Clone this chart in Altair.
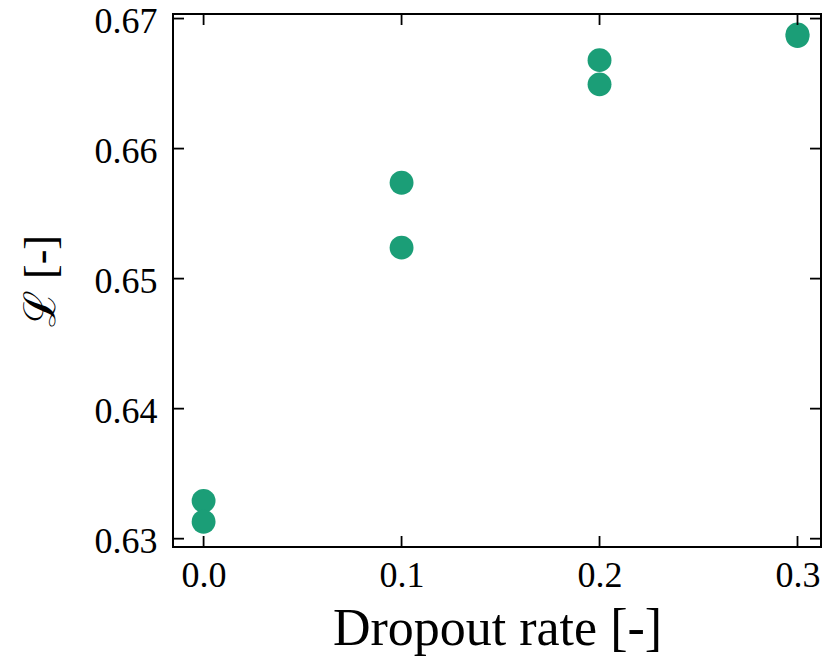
import altair as alt
import pandas as pd

# data
dropout = [0.0, 0.0, 0.1, 0.1, 0.2, 0.2, 0.3, 0.3]
loss = [0.63291, 0.63130, 0.65737, 0.65238, 0.66680, 0.66494, 0.66877, 0.66866]
x_ticks = [0.0, 0.1, 0.2, 0.3]
y_ticks = [0.63, 0.64, 0.65, 0.66, 0.67]

df = pd.DataFrame({"x": dropout, "y": loss})
xt = pd.DataFrame({"x": x_ticks})
yt = pd.DataFrame({"y": y_ticks})

W, H = 648, 533
FONT = "Liberation Serif"
TL = 11

xscale = alt.Scale(domain=[-0.01545, 0.31187], nice=False, zero=False)
yscale = alt.Scale(domain=[0.62936, 0.67035], nice=False, zero=False)

xaxis = alt.Axis(values=x_ticks, format=".1f", title="Dropout rate [-]",
                 grid=False, domain=False, ticks=False, tickSize=0,
                 labelFont=FONT, labelFontSize=36, labelColor="black",
                 labelPadding=11, titleFont=FONT, titleFontSize=52,
                 titleFontWeight="normal", titleColor="black", titlePadding=10)
yaxis = alt.Axis(values=y_ticks, format=".2f", title="ℒ [-]",
                 grid=False, domain=False, ticks=False, tickSize=0,
                 labelFont=FONT, labelFontSize=36, labelColor="black",
                 labelPadding=16, labelOffset=3, titleFont=FONT, titleFontSize=44,
                 titleFontWeight="normal", titleColor="black", titlePadding=31)

X = alt.X("x:Q", scale=xscale, axis=xaxis)
Y = alt.Y("y:Q", scale=yscale, axis=yaxis)

points = alt.Chart(df).mark_circle(size=570, color="#1b9e77", opacity=1).encode(x=X, y=Y)

rule_style = dict(color="black", strokeWidth=1.8)

left_ticks = alt.Chart(yt).mark_rule(**rule_style).encode(
    y=Y, x=alt.value(0), x2=alt.value(TL))
right_ticks = alt.Chart(yt).mark_rule(**rule_style).encode(
    y=Y, x=alt.value(W - TL), x2=alt.value(W))
bottom_ticks = alt.Chart(xt).mark_rule(**rule_style).encode(
    x=X, y=alt.value(H - TL), y2=alt.value(H))
top_ticks = alt.Chart(xt).mark_rule(**rule_style).encode(
    x=X, y=alt.value(0), y2=alt.value(TL))

chart = alt.layer(points, left_ticks, right_ticks, bottom_ticks, top_ticks).properties(
    width=W, height=H,
    padding={"left": 165, "top": 6, "right": 1, "bottom": 110},
    autosize=alt.AutoSizeParams(type="none"),
    background="white",
).configure_view(stroke="black", strokeWidth=2)

chart.save("out.html", embed_options={"renderer": "svg", "actions": False})
